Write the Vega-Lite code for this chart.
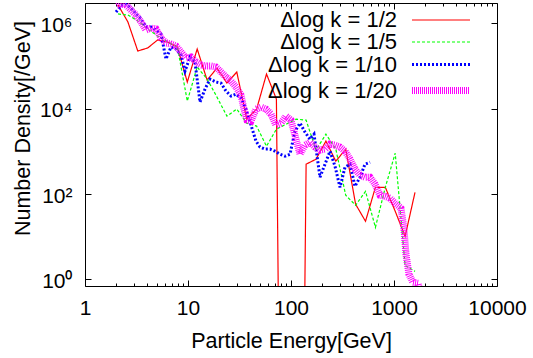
{
  "$schema": "https://vega.github.io/schema/vega-lite/v6.json",
  "width": 412,
  "height": 283,
  "autosize": {"type": "none"},
  "padding": {"left": 85, "top": 3, "right": 36, "bottom": 72},
  "background": "white",
  "config": {
    "view": {"stroke": "#000", "strokeWidth": 1},
    "font": "Liberation Sans",
    "axis": {
      "grid": false, "domain": false,
      "labelFont": "Liberation Sans", "labelFontSize": 21, "labelColor": "#000",
      "titleFont": "Liberation Sans", "titleFontSize": 21.5, "titleFontWeight": "normal", "titleColor": "#000",
      "tickColor": "#000", "tickWidth": 1
    }
  },
  "datasets": {
    "d": [
      {"series": "Δlog k = 1/2", "E": 2.091, "N": 2700000},
      {"series": "Δlog k = 1/2", "E": 2.609, "N": 1080000},
      {"series": "Δlog k = 1/2", "E": 3.255, "N": 225000},
      {"series": "Δlog k = 1/2", "E": 4.062, "N": 265000},
      {"series": "Δlog k = 1/2", "E": 5.069, "N": 408000},
      {"series": "Δlog k = 1/2", "E": 6.324, "N": 366000},
      {"series": "Δlog k = 1/2", "E": 7.891, "N": 279000},
      {"series": "Δlog k = 1/2", "E": 9.845, "N": 42100},
      {"series": "Δlog k = 1/2", "E": 12.28, "N": 251000},
      {"series": "Δlog k = 1/2", "E": 15.33, "N": 46900},
      {"series": "Δlog k = 1/2", "E": 19.12, "N": 89800},
      {"series": "Δlog k = 1/2", "E": 23.86, "N": 39900},
      {"series": "Δlog k = 1/2", "E": 29.77, "N": 72300},
      {"series": "Δlog k = 1/2", "E": 37.15, "N": 5700},
      {"series": "Δlog k = 1/2", "E": 46.36, "N": 9790},
      {"series": "Δlog k = 1/2", "E": 57.84, "N": 64900},
      {"series": "Δlog k = 1/2", "E": 72.17, "N": 16800},
      {"series": "Δlog k = 1/2", "E": 90.05, "N": 1e-20},
      {"series": "Δlog k = 1/2", "E": 112.4, "N": 1e-20},
      {"series": "Δlog k = 1/2", "E": 140.2, "N": 501},
      {"series": "Δlog k = 1/2", "E": 174.9, "N": 656},
      {"series": "Δlog k = 1/2", "E": 218.3, "N": 1740},
      {"series": "Δlog k = 1/2", "E": 272.3, "N": 589},
      {"series": "Δlog k = 1/2", "E": 339.8, "N": 1130},
      {"series": "Δlog k = 1/2", "E": 424.0, "N": 57.6},
      {"series": "Δlog k = 1/2", "E": 529.0, "N": 23.0},
      {"series": "Δlog k = 1/2", "E": 660.1, "N": 144},
      {"series": "Δlog k = 1/2", "E": 823.6, "N": 144},
      {"series": "Δlog k = 1/2", "E": 1027.5, "N": 39.5},
      {"series": "Δlog k = 1/2", "E": 1282, "N": 10.2},
      {"series": "Δlog k = 1/2", "E": 1600, "N": 110},

      {"series": "Δlog k = 1/5", "E": 2.091, "N": 1660000},
      {"series": "Δlog k = 1/5", "E": 2.609, "N": 1570000},
      {"series": "Δlog k = 1/5", "E": 3.255, "N": 1140000},
      {"series": "Δlog k = 1/5", "E": 4.062, "N": 739000},
      {"series": "Δlog k = 1/5", "E": 5.069, "N": 506000},
      {"series": "Δlog k = 1/5", "E": 6.324, "N": 366000},
      {"series": "Δlog k = 1/5", "E": 7.891, "N": 279000},
      {"series": "Δlog k = 1/5", "E": 9.845, "N": 15100},
      {"series": "Δlog k = 1/5", "E": 12.28, "N": 94800},
      {"series": "Δlog k = 1/5", "E": 15.33, "N": 49500},
      {"series": "Δlog k = 1/5", "E": 19.12, "N": 18700},
      {"series": "Δlog k = 1/5", "E": 23.86, "N": 6700},
      {"series": "Δlog k = 1/5", "E": 29.77, "N": 9790},
      {"series": "Δlog k = 1/5", "E": 37.15, "N": 4590},
      {"series": "Δlog k = 1/5", "E": 46.36, "N": 3910},
      {"series": "Δlog k = 1/5", "E": 57.84, "N": 1320},
      {"series": "Δlog k = 1/5", "E": 72.17, "N": 3320},
      {"series": "Δlog k = 1/5", "E": 90.05, "N": 4350},
      {"series": "Δlog k = 1/5", "E": 112.4, "N": 5700},
      {"series": "Δlog k = 1/5", "E": 140.2, "N": 5400},
      {"series": "Δlog k = 1/5", "E": 174.9, "N": 1070},
      {"series": "Δlog k = 1/5", "E": 218.3, "N": 2530},
      {"series": "Δlog k = 1/5", "E": 272.3, "N": 1130},
      {"series": "Δlog k = 1/5", "E": 339.8, "N": 93.7},
      {"series": "Δlog k = 1/5", "E": 424.0, "N": 54.6},
      {"series": "Δlog k = 1/5", "E": 529.0, "N": 116},
      {"series": "Δlog k = 1/5", "E": 660.1, "N": 16.6},
      {"series": "Δlog k = 1/5", "E": 823.6, "N": 144},
      {"series": "Δlog k = 1/5", "E": 1027.5, "N": 907},
      {"series": "Δlog k = 1/5", "E": 1282, "N": 2.13},
      {"series": "Δlog k = 1/5", "E": 1600, "N": 1.54},

      {"series": "Δlog k = 1/10", "E": 2.000, "N": 1850000},
      {"series": "Δlog k = 1/10", "E": 2.236, "N": 2560000},
      {"series": "Δlog k = 1/10", "E": 2.501, "N": 2850000},
      {"series": "Δlog k = 1/10", "E": 2.796, "N": 2300000},
      {"series": "Δlog k = 1/10", "E": 3.127, "N": 1660000},
      {"series": "Δlog k = 1/10", "E": 3.498, "N": 1270000},
      {"series": "Δlog k = 1/10", "E": 3.911, "N": 823000},
      {"series": "Δlog k = 1/10", "E": 4.373, "N": 823000},
      {"series": "Δlog k = 1/10", "E": 4.891, "N": 700000},
      {"series": "Δlog k = 1/10", "E": 5.470, "N": 564000},
      {"series": "Δlog k = 1/10", "E": 6.115, "N": 146000},
      {"series": "Δlog k = 1/10", "E": 6.839, "N": 279000},
      {"series": "Δlog k = 1/10", "E": 7.646, "N": 251000},
      {"series": "Δlog k = 1/10", "E": 8.551, "N": 181000},
      {"series": "Δlog k = 1/10", "E": 9.352, "N": 76300},
      {"series": "Δlog k = 1/10", "E": 10.46, "N": 163000},
      {"series": "Δlog k = 1/10", "E": 11.69, "N": 124000},
      {"series": "Δlog k = 1/10", "E": 13.08, "N": 14300},
      {"series": "Δlog k = 1/10", "E": 14.62, "N": 28800},
      {"series": "Δlog k = 1/10", "E": 16.35, "N": 49500},
      {"series": "Δlog k = 1/10", "E": 18.70, "N": 42100},
      {"series": "Δlog k = 1/10", "E": 20.91, "N": 39900},
      {"series": "Δlog k = 1/10", "E": 23.38, "N": 25900},
      {"series": "Δlog k = 1/10", "E": 26.15, "N": 19800},
      {"series": "Δlog k = 1/10", "E": 29.24, "N": 22000},
      {"series": "Δlog k = 1/10", "E": 32.70, "N": 17700},
      {"series": "Δlog k = 1/10", "E": 36.57, "N": 9790},
      {"series": "Δlog k = 1/10", "E": 40.89, "N": 4120},
      {"series": "Δlog k = 1/10", "E": 45.73, "N": 1740},
      {"series": "Δlog k = 1/10", "E": 50.00, "N": 1260},
      {"series": "Δlog k = 1/10", "E": 55.91, "N": 1130},
      {"series": "Δlog k = 1/10", "E": 62.53, "N": 1130},
      {"series": "Δlog k = 1/10", "E": 69.93, "N": 1010},
      {"series": "Δlog k = 1/10", "E": 78.20, "N": 859},
      {"series": "Δlog k = 1/10", "E": 87.44, "N": 771},
      {"series": "Δlog k = 1/10", "E": 97.79, "N": 859},
      {"series": "Δlog k = 1/10", "E": 109.4, "N": 2980},
      {"series": "Δlog k = 1/10", "E": 122.3, "N": 4590},
      {"series": "Δlog k = 1/10", "E": 136.8, "N": 2820},
      {"series": "Δlog k = 1/10", "E": 152.9, "N": 1930},
      {"series": "Δlog k = 1/10", "E": 167.2, "N": 2530},
      {"series": "Δlog k = 1/10", "E": 191.2, "N": 248},
      {"series": "Δlog k = 1/10", "E": 213.8, "N": 501},
      {"series": "Δlog k = 1/10", "E": 239.1, "N": 1010},
      {"series": "Δlog k = 1/10", "E": 267.4, "N": 449},
      {"series": "Δlog k = 1/10", "E": 299.0, "N": 144},
      {"series": "Δlog k = 1/10", "E": 334.4, "N": 426},
      {"series": "Δlog k = 1/10", "E": 373.9, "N": 501},
      {"series": "Δlog k = 1/10", "E": 418.1, "N": 152},
      {"series": "Δlog k = 1/10", "E": 467.7, "N": 248},
      {"series": "Δlog k = 1/10", "E": 522.9, "N": 501},
      {"series": "Δlog k = 1/10", "E": 584.8, "N": 557},

      {"series": "Δlog k = 1/20", "E": 2.045, "N": 2560000},
      {"series": "Δlog k = 1/20", "E": 2.236, "N": 2850000},
      {"series": "Δlog k = 1/20", "E": 2.501, "N": 2700000},
      {"series": "Δlog k = 1/20", "E": 2.796, "N": 2060000},
      {"series": "Δlog k = 1/20", "E": 3.127, "N": 1570000},
      {"series": "Δlog k = 1/20", "E": 3.498, "N": 1080000},
      {"series": "Δlog k = 1/20", "E": 3.911, "N": 700000},
      {"series": "Δlog k = 1/20", "E": 4.373, "N": 780000},
      {"series": "Δlog k = 1/20", "E": 4.891, "N": 739000},
      {"series": "Δlog k = 1/20", "E": 5.470, "N": 454000},
      {"series": "Δlog k = 1/20", "E": 6.115, "N": 347000},
      {"series": "Δlog k = 1/20", "E": 6.839, "N": 328000},
      {"series": "Δlog k = 1/20", "E": 7.646, "N": 295000},
      {"series": "Δlog k = 1/20", "E": 8.551, "N": 213000},
      {"series": "Δlog k = 1/20", "E": 9.564, "N": 154000},
      {"series": "Δlog k = 1/20", "E": 10.69, "N": 163000},
      {"series": "Δlog k = 1/20", "E": 11.96, "N": 124000},
      {"series": "Δlog k = 1/20", "E": 13.37, "N": 106000},
      {"series": "Δlog k = 1/20", "E": 14.96, "N": 100000},
      {"series": "Δlog k = 1/20", "E": 16.73, "N": 100000},
      {"series": "Δlog k = 1/20", "E": 18.70, "N": 94800},
      {"series": "Δlog k = 1/20", "E": 20.91, "N": 72300},
      {"series": "Δlog k = 1/20", "E": 23.38, "N": 55200},
      {"series": "Δlog k = 1/20", "E": 26.15, "N": 44500},
      {"series": "Δlog k = 1/20", "E": 29.24, "N": 32100},
      {"series": "Δlog k = 1/20", "E": 32.70, "N": 20900},
      {"series": "Δlog k = 1/20", "E": 34.98, "N": 9790},
      {"series": "Δlog k = 1/20", "E": 37.39, "N": 5400},
      {"series": "Δlog k = 1/20", "E": 40.89, "N": 5110},
      {"series": "Δlog k = 1/20", "E": 45.73, "N": 9790},
      {"series": "Δlog k = 1/20", "E": 51.13, "N": 10900},
      {"series": "Δlog k = 1/20", "E": 57.19, "N": 9790},
      {"series": "Δlog k = 1/20", "E": 63.94, "N": 7470},
      {"series": "Δlog k = 1/20", "E": 71.51, "N": 4120},
      {"series": "Δlog k = 1/20", "E": 79.97, "N": 4590},
      {"series": "Δlog k = 1/20", "E": 89.42, "N": 6700},
      {"series": "Δlog k = 1/20", "E": 100.0, "N": 5400},
      {"series": "Δlog k = 1/20", "E": 111.8, "N": 1930},
      {"series": "Δlog k = 1/20", "E": 122.3, "N": 859},
      {"series": "Δlog k = 1/20", "E": 136.8, "N": 1400},
      {"series": "Δlog k = 1/20", "E": 152.9, "N": 1640},
      {"series": "Δlog k = 1/20", "E": 171.0, "N": 1260},
      {"series": "Δlog k = 1/20", "E": 191.2, "N": 1070},
      {"series": "Δlog k = 1/20", "E": 213.8, "N": 1130},
      {"series": "Δlog k = 1/20", "E": 239.1, "N": 1480},
      {"series": "Δlog k = 1/20", "E": 267.4, "N": 1400},
      {"series": "Δlog k = 1/20", "E": 299.0, "N": 1260},
      {"series": "Δlog k = 1/20", "E": 334.4, "N": 1010},
      {"series": "Δlog k = 1/20", "E": 373.9, "N": 656},
      {"series": "Δlog k = 1/20", "E": 418.1, "N": 382},
      {"series": "Δlog k = 1/20", "E": 467.7, "N": 276},
      {"series": "Δlog k = 1/20", "E": 522.9, "N": 248},
      {"series": "Δlog k = 1/20", "E": 584.8, "N": 248},
      {"series": "Δlog k = 1/20", "E": 654.0, "N": 170},
      {"series": "Δlog k = 1/20", "E": 731.3, "N": 93.7},
      {"series": "Δlog k = 1/20", "E": 817.9, "N": 88.8},
      {"series": "Δlog k = 1/20", "E": 914.5, "N": 79.7},
      {"series": "Δlog k = 1/20", "E": 1023, "N": 60.8},
      {"series": "Δlog k = 1/20", "E": 1169, "N": 46.4},
      {"series": "Δlog k = 1/20", "E": 1251, "N": 14.9},
      {"series": "Δlog k = 1/20", "E": 1308, "N": 3.86},
      {"series": "Δlog k = 1/20", "E": 1398, "N": 1.31},
      {"series": "Δlog k = 1/20", "E": 1529, "N": 0.85},
      {"series": "Δlog k = 1/20", "E": 1710, "N": 0.81},
      {"series": "Δlog k = 1/20", "E": 1749, "N": 0.65}
    ]
  },
  "data": {"name": "d"},
  "layer": [
    {
      "mark": {"type": "line", "clip": true, "strokeCap": "butt"},
      "encoding": {
        "x": {
          "field": "E", "type": "quantitative",
          "scale": {"type": "log", "domain": [1, 10000], "nice": false},
          "axis": {
            "orient": "bottom",
            "title": "Particle Energy[GeV]",
            "values": [1,2,3,4,5,6,7,8,9,10,20,30,40,50,60,70,80,90,100,200,300,400,500,600,700,800,900,1000,2000,3000,4000,5000,6000,7000,8000,9000,10000],
            "labelExpr": "indexof([1,10,100,1000,10000], datum.value) >= 0 ? format(datum.value, 'd') : ''",
            "tickSize": {"condition": {"test": "indexof([1,10,100,1000,10000], datum.value) >= 0", "value": -6}, "value": -3},
            "labelPadding": 17,
            "labelBaseline": "top",
            "labelFlush": false,
            "labelOverlap": false,
            "titleY": 61,
            "titleBaseline": "alphabetic"
          }
        },
        "y": {
          "field": "N", "type": "quantitative",
          "scale": {"type": "log", "domain": [0.7, 3000000], "nice": false},
          "axis": {
            "orient": "left",
            "title": "Number Density[/GeV]",
            "values": [1, 100, 10000, 1000000],
            "labelExpr": "datum.value == 1 ? '10⁰' : datum.value == 100 ? '10²' : datum.value == 10000 ? '10⁴' : '10⁶'",
            "tickSize": -6,
            "labelPadding": 19,
            "labelOffset": 2,
            "labelFlush": false,
            "labelOverlap": false,
            "titleX": -56,
            "titleY": 125,
            "titleAngle": -90,
            "titleAlign": "center",
            "titleBaseline": "alphabetic"
          }
        },
        "color": {
          "field": "series", "type": "nominal",
          "scale": {"domain": ["Δlog k = 1/2", "Δlog k = 1/5", "Δlog k = 1/10", "Δlog k = 1/20"], "range": ["#ff0000", "#00ff00", "#0000ff", "#ff00ff"]},
          "legend": {
            "title": null,
            "orient": "none",
            "legendX": 111.5,
            "legendY": 6,
            "symbolType": "M-2.9,0H2.9",
            "symbolSize": 400,
            "labelAlign": "right",
            "labelOffset": -57.5,
            "symbolOffset": 231,
            "labelFont": "Liberation Sans",
            "labelFontSize": 22,
            "labelColor": "#000",
            "labelLimit": 300,
            "rowPadding": 0,
            "padding": 0
          }
        },
        "strokeDash": {
          "field": "series", "type": "nominal",
          "scale": {"domain": ["Δlog k = 1/2", "Δlog k = 1/5", "Δlog k = 1/10", "Δlog k = 1/20"], "range": [[1, 0], [3, 2], [2, 2], [1, 1]]},
          "legend": {"title": null}
        },
        "strokeWidth": {
          "field": "series", "type": "ordinal",
          "scale": {"type": "ordinal", "domain": ["Δlog k = 1/2", "Δlog k = 1/5", "Δlog k = 1/10", "Δlog k = 1/20"], "range": [1.2, 1.2, 3, 7]},
          "legend": {"title": null}
        }
      }
    },
    {
      "mark": {"type": "point", "opacity": 0, "clip": true},
      "encoding": {
        "x": {
          "field": "E", "type": "quantitative",
          "scale": {"type": "log", "domain": [1, 10000], "nice": false},
          "axis": {
            "orient": "top",
            "title": null,
            "labels": false,
            "values": [1,2,3,4,5,6,7,8,9,10,20,30,40,50,60,70,80,90,100,200,300,400,500,600,700,800,900,1000,2000,3000,4000,5000,6000,7000,8000,9000,10000],
            "tickSize": {"condition": {"test": "indexof([1,10,100,1000,10000], datum.value) >= 0", "value": -6}, "value": -3}
          }
        },
        "y": {
          "field": "N", "type": "quantitative",
          "scale": {"type": "log", "domain": [0.7, 3000000], "nice": false},
          "axis": {
            "orient": "right",
            "title": null,
            "labels": false,
            "values": [1, 100, 10000, 1000000],
            "tickSize": -6
          }
        }
      }
    }
  ],
  "resolve": {"axis": {"x": "independent", "y": "independent"}}
}
